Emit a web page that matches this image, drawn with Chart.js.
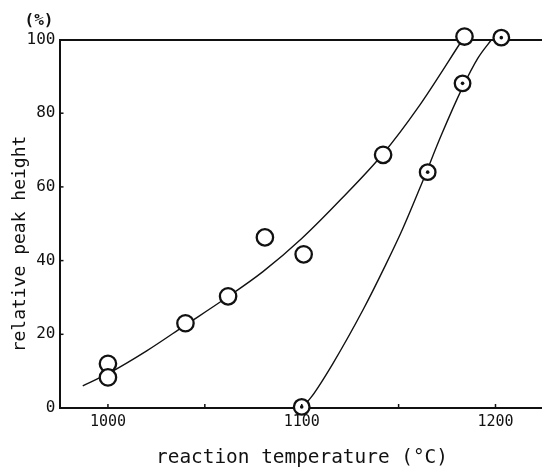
<!DOCTYPE html>
<html>
<head>
<meta charset="utf-8">
<script src="https://cdn.jsdelivr.net/npm/chart.js@4"></script>
<style>
  html, body { margin: 0; padding: 0; background: #fff; }
  #wrap { width: 542px; height: 469px; }
</style>
</head>
<body>
<div id="wrap"><canvas id="chart" width="542" height="469"></canvas></div>
<script>
const tempOpen   = [1000, 1000, 1040, 1062, 1081, 1101, 1142, 1184];
const heightOpen = [12, 8.3, 23, 30.3, 46.3, 41.7, 68.7, 100.8];
const tempDot    = [1100, 1165, 1183, 1203];
const heightDot  = [0.3, 64, 88.1, 100.5];

// curvas trazadas a mano en el original
const curveOpenT = [987, 1000, 1020, 1040, 1060, 1080, 1100, 1120, 1142, 1160, 1183];
const curveOpenH = [6, 9.3, 15.5, 22.5, 29.5, 37, 46, 56.5, 69, 81.5, 100];
const curveDotT  = [1100, 1105, 1116, 1132, 1143, 1152, 1162, 1172, 1183, 1191, 1198];
const curveDotH  = [0, 3, 12, 27, 38.5, 48.5, 61, 74, 87, 95, 100];

const xTicks = [1000, 1050, 1100, 1150, 1200];
const xLabels = [1000, 1100, 1200];
const yTicks = [0, 20, 40, 60, 80, 100];

const xTitle = 'reaction temperature (°C)';
const yTitle = 'relative peak height';
const unitText = '(%)';

const INK = '#111';
const FONT = "'DejaVu Sans Mono', 'Liberation Mono', monospace";

const pts = (xs, ys) => xs.map((x, i) => ({ x, y: ys[i] }));

// ticks cortos hacia dentro y textos de ejes
const decor = {
  id: 'decor',
  afterDraw(chart) {
    const { ctx, chartArea: a, scales: { x, y } } = chart;
    ctx.save();
    ctx.strokeStyle = INK;
    ctx.lineWidth = 1.5;
    xTicks.forEach(v => {
      const px = x.getPixelForValue(v);
      ctx.beginPath(); ctx.moveTo(px, a.bottom); ctx.lineTo(px, a.bottom - 4); ctx.stroke();
    });
    yTicks.slice(1, -1).forEach(v => {
      const py = y.getPixelForValue(v);
      ctx.beginPath(); ctx.moveTo(a.left, py); ctx.lineTo(a.left + 4, py); ctx.stroke();
    });
    ctx.fillStyle = INK;
    ctx.textBaseline = 'middle';
    ctx.textAlign = 'center';
    ctx.font = '19.4px ' + FONT;
    ctx.fillText(xTitle, 302, 458);
    ctx.font = 'bold 16px ' + FONT;
    ctx.fillText(unitText, 39, 21);
    ctx.translate(20, 244);
    ctx.rotate(-Math.PI / 2);
    ctx.font = '18px ' + FONT;
    ctx.fillText(yTitle, 0, 0);
    ctx.restore();
  }
};

new Chart(document.getElementById('chart'), {
  type: 'scatter',
  data: {
    datasets: [
      { data: pts(curveOpenT, curveOpenH), showLine: true, cubicInterpolationMode: 'monotone',
        borderColor: INK, borderWidth: 1.4, pointRadius: 0, order: 3, clip: false },
      { data: pts(curveDotT, curveDotH), showLine: true, cubicInterpolationMode: 'monotone',
        borderColor: INK, borderWidth: 1.4, pointRadius: 0, order: 3, clip: false },
      { data: pts(tempOpen, heightOpen), pointRadius: 8.2, borderWidth: 2.3,
        borderColor: INK, backgroundColor: '#fff', order: 2, clip: false },
      { data: pts(tempDot, heightDot), pointRadius: 7.8, borderWidth: 2.3,
        borderColor: INK, backgroundColor: '#fff', order: 1, clip: false },
      { data: pts(tempDot, heightDot), pointRadius: 1.8, borderWidth: 0,
        backgroundColor: INK, order: 0, clip: false }
    ]
  },
  options: {
    responsive: false,
    animation: false,
    events: [],
    layout: { autoPadding: false, padding: { left: 0, top: 39.5, right: 0, bottom: 0 } },
    plugins: { legend: { display: false }, tooltip: { enabled: false } },
    scales: {
      x: {
        type: 'linear', min: 975, max: 1224,
        afterFit: s => { s.height = 61; },
        afterBuildTicks: s => { s.ticks = xTicks.map(v => ({ value: v })); },
        grid: { display: false, drawTicks: false },
        border: { display: true, color: INK, width: 2 },
        ticks: {
          padding: 5, color: INK, maxRotation: 0, autoSkip: false,
          font: { family: FONT, size: 15 },
          callback: v => xLabels.includes(v) ? String(v) : ''
        }
      },
      y: {
        min: 0, max: 100,
        afterFit: s => { s.width = 59.5; },
        afterBuildTicks: s => { s.ticks = yTicks.map(v => ({ value: v })); },
        grid: {
          drawTicks: false,
          color: c => c.tick && c.tick.value === 100 ? INK : 'rgba(0,0,0,0)',
          lineWidth: c => c.tick && c.tick.value === 100 ? 2 : 0
        },
        border: { display: true, color: INK, width: 2 },
        ticks: { padding: 4, color: INK, font: { family: FONT, size: 16 } }
      }
    }
  },
  plugins: [decor]
});
</script>
</body>
</html>
